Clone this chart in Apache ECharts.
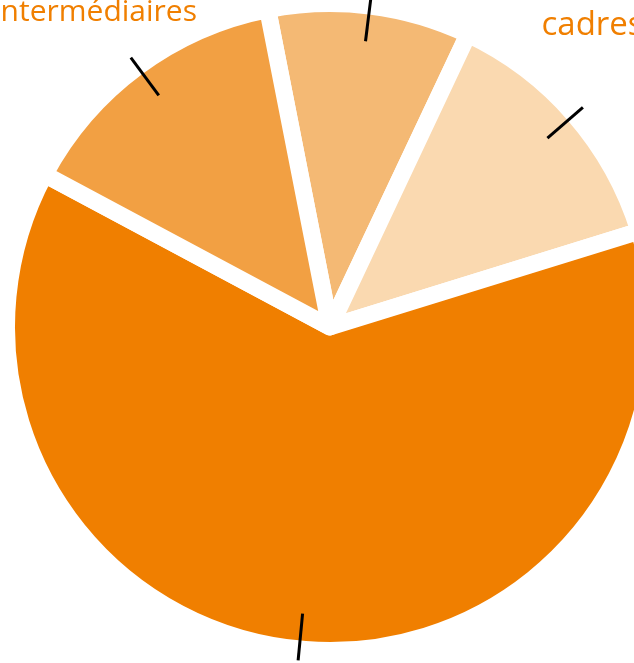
<!DOCTYPE html>
<html><head><meta charset="utf-8">
<script src="https://cdn.jsdelivr.net/npm/echarts@6/dist/echarts.min.js"></script>
<style>html,body{margin:0;padding:0;background:#fff;overflow:hidden}#c{width:634px;height:663px}</style>
</head><body><div id="c"></div>
<script>
// Slice names (clockwise from the top-left boundary) and shares in %
const categories = ['employés', 'cadres', 'ouvriers', 'professions\nintermédiaires'];
const values = [10.1, 13.2, 62.6, 14.1];
const colors = ['#F4B974', '#FAD9B0', '#F07F00', '#F2A043'];
// label text placement (anchor x, bottom y), alignment and size
const labelPos = [[372, -20], [541.5, 44], [300, 720], [197, 30]];
const labelAligns = ['left', 'left', 'left', 'right'];
const labelSizes = [30, 33, 30, 30];

const pieData = categories.map((n, i) => ({ name: n, value: values[i], itemStyle: { color: colors[i] } }));

const chart = echarts.init(document.getElementById('c'), null, { renderer: 'canvas' });
chart.setOption({
  animation: false,
  series: [{
    type: 'pie',
    z: 2,
    center: [330, 327],
    radius: 323.5,
    startAngle: 101.1,
    clockwise: true,
    avoidLabelOverlap: false,
    data: pieData,
    itemStyle: { borderColor: '#ffffff', borderWidth: 17 },
    label: {
      show: true, position: 'outside', formatter: '{b}',
      color: '#F07F00', fontFamily: 'Open Sans', fontSize: 30, lineHeight: 36
    },
    labelLine: { show: false },
    labelLayout: function (p) {
      const i = p.dataIndex;
      return {
        x: labelPos[i][0], y: labelPos[i][1],
        align: labelAligns[i], verticalAlign: 'bottom', fontSize: labelSizes[i]
      };
    },
    emphasis: { disabled: true }
  }, {
    // leader ticks: radial strokes crossing the rim of each slice
    type: 'pie',
    z: 5,
    center: [330, 327],
    radius: 288,
    startAngle: 101.1,
    clockwise: true,
    silent: true,
    avoidLabelOverlap: false,
    data: categories.map((n, i) => ({ name: n, value: values[i] })),
    itemStyle: { color: 'rgba(0,0,0,0)', borderWidth: 0 },
    label: { show: true, position: 'outside', formatter: '{b}', color: 'rgba(0,0,0,0)', fontSize: 10 },
    labelLine: { show: true, length: 47, length2: 0, smooth: false, lineStyle: { color: '#000000', width: 3 } },
    emphasis: { disabled: true }
  }]
});
</script></body></html>
